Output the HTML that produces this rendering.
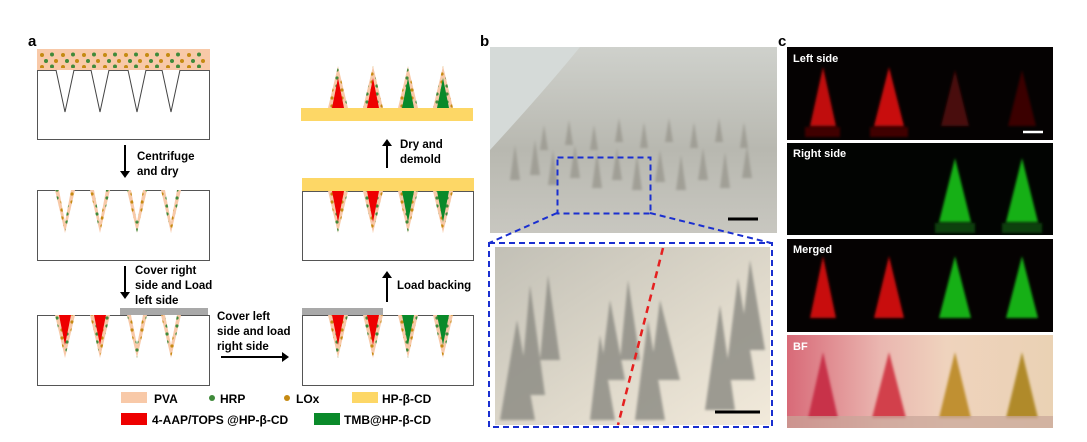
<!DOCTYPE html>
<html><head><meta charset="utf-8"><style>
html,body{margin:0;padding:0;background:#fff;}
svg{display:block;font-family:"Liberation Sans",Arial,sans-serif;}
</style></head><body>
<svg width="1087" height="442" viewBox="0 0 1087 442" xmlns="http://www.w3.org/2000/svg">
<defs>
<pattern id="dots" width="10" height="8" patternUnits="userSpaceOnUse">
<circle cx="2" cy="2" r="1.6" fill="#c58a12"/><circle cx="7" cy="6" r="1.6" fill="#3f8a3a"/>
</pattern>
<pattern id="dots2" x="39" y="52" width="21" height="12" patternUnits="userSpaceOnUse">
<circle cx="3" cy="3" r="2" fill="#c58a12"/><circle cx="13" cy="2.5" r="2" fill="#3f8a3a"/>
<circle cx="7" cy="9" r="2" fill="#3f8a3a"/><circle cx="17" cy="9" r="2" fill="#c58a12"/>
</pattern>
<linearGradient id="ph" x1="0" y1="0" x2="0" y2="1"><stop offset="0" stop-color="#cfd1cc"/><stop offset="0.55" stop-color="#b8b8b0"/><stop offset="1" stop-color="#c8c7c0"/></linearGradient>
<linearGradient id="ph2" x1="0" y1="0" x2="1" y2="1"><stop offset="0" stop-color="#c2c0b6"/><stop offset="0.6" stop-color="#e0dacc"/><stop offset="1" stop-color="#f2eadb"/></linearGradient>
<linearGradient id="bf" x1="0" y1="0" x2="1" y2="0"><stop offset="0" stop-color="#d86a78"/><stop offset="0.35" stop-color="#eab6b0"/><stop offset="0.6" stop-color="#efd3bd"/><stop offset="1" stop-color="#ead2b4"/></linearGradient>
<filter id="bl" x="-20%" y="-20%" width="140%" height="140%"><feGaussianBlur stdDeviation="1.2"/></filter>
</defs>

<!-- Panel a -->
<text x="28" y="46" font-size="15" font-weight="bold">a</text>
<rect x="37" y="49" width="173" height="21" fill="#f8c9a8"/>
<rect x="39" y="52" width="169" height="16" fill="url(#dots2)"/>
<rect x="37.5" y="70.5" width="172" height="69" fill="none" stroke="#555" stroke-width="1"/>
<g fill="#fff" stroke="#444" stroke-width="1">
<path d="M56 70 L65 112 L74 70"/><path d="M91 70 L100 112 L109 70"/><path d="M128 70 L137 112 L146 70"/><path d="M162 70 L171 112 L180 70"/>
</g>
<line x1="125" y1="145" x2="125" y2="173" stroke="#000" stroke-width="2"/><path d="M120 171 L125 178 L130 171Z"/>
<text x="137" y="160" font-size="11.5" font-weight="bold">Centrifuge</text>
<text x="137" y="175" font-size="11.5" font-weight="bold">and dry</text>
<rect x="37.5" y="190.5" width="172" height="70" fill="none" stroke="#555"/>
<g>
<path d="M55 190 L65 233 L75 190Z" fill="#f8c9a8"/><path d="M90 190 L100 233 L110 190Z" fill="#f8c9a8"/><path d="M127 190 L137 233 L147 190Z" fill="#f8c9a8"/><path d="M161 190 L171 233 L181 190Z" fill="#f8c9a8"/>
<path d="M55 190 L65 233 L75 190Z" fill="url(#dots)"/><path d="M90 190 L100 233 L110 190Z" fill="url(#dots)"/><path d="M127 190 L137 233 L147 190Z" fill="url(#dots)"/><path d="M161 190 L171 233 L181 190Z" fill="url(#dots)"/>
<path d="M59 190 L65 222 L71 190Z" fill="#fff"/><path d="M94 190 L100 222 L106 190Z" fill="#fff"/><path d="M131 190 L137 222 L143 190Z" fill="#fff"/><path d="M165 190 L171 222 L177 190Z" fill="#fff"/>
</g>
<line x1="125" y1="266" x2="125" y2="294" stroke="#000" stroke-width="2"/><path d="M120 292 L125 299 L130 292Z"/>
<text x="135" y="274" font-size="11.5" font-weight="bold">Cover right</text>
<text x="135" y="289" font-size="11.5" font-weight="bold">side and Load</text>
<text x="135" y="304" font-size="11.5" font-weight="bold">left side</text>
<rect x="120" y="308" width="88" height="7" fill="#a9a9a9"/>
<rect x="37.5" y="315.5" width="172" height="70" fill="none" stroke="#555"/>
<g>
<path d="M55 315 L65 358 L75 315Z" fill="#f8c9a8"/><path d="M90 315 L100 358 L110 315Z" fill="#f8c9a8"/><path d="M127 315 L137 358 L147 315Z" fill="#f8c9a8"/><path d="M161 315 L171 358 L181 315Z" fill="#f8c9a8"/>
<path d="M55 315 L65 358 L75 315Z" fill="url(#dots)"/><path d="M90 315 L100 358 L110 315Z" fill="url(#dots)"/><path d="M127 315 L137 358 L147 315Z" fill="url(#dots)"/><path d="M161 315 L171 358 L181 315Z" fill="url(#dots)"/>
<path d="M59 315 L65 345 L71 315Z" fill="#e00"/><path d="M94 315 L100 345 L106 315Z" fill="#e00"/><path d="M131 315 L137 345 L143 315Z" fill="#fff"/><path d="M165 315 L171 345 L177 315Z" fill="#fff"/>
</g>
<text x="217" y="320" font-size="11.5" font-weight="bold">Cover left</text>
<text x="217" y="335" font-size="11.5" font-weight="bold">side and load</text>
<text x="217" y="350" font-size="11.5" font-weight="bold">right side</text>
<line x1="221" y1="357" x2="284" y2="357" stroke="#000" stroke-width="2"/><path d="M282 352 L289 357 L282 362Z"/>

<rect x="301" y="108" width="172" height="13" fill="#fdd766"/>
<g>
<path d="M328 108 L338 66 L348 108Z" fill="#f8c9a8"/><path d="M363 108 L373 66 L383 108Z" fill="#f8c9a8"/><path d="M398 108 L408 66 L418 108Z" fill="#f8c9a8"/><path d="M433 108 L443 66 L453 108Z" fill="#f8c9a8"/>
<path d="M328 108 L338 66 L348 108Z" fill="url(#dots)"/><path d="M363 108 L373 66 L383 108Z" fill="url(#dots)"/><path d="M398 108 L408 66 L418 108Z" fill="url(#dots)"/><path d="M433 108 L443 66 L453 108Z" fill="url(#dots)"/>
<path d="M332 108 L338 78 L344 108Z" fill="#e00"/><path d="M367 108 L373 78 L379 108Z" fill="#e00"/><path d="M402 108 L408 78 L414 108Z" fill="#0a8a2a"/><path d="M437 108 L443 78 L449 108Z" fill="#0a8a2a"/>
</g>
<line x1="387" y1="168" x2="387" y2="144" stroke="#000" stroke-width="2"/><path d="M382 146 L387 139 L392 146Z"/>
<text x="400" y="148" font-size="11.5" font-weight="bold">Dry and</text>
<text x="400" y="163" font-size="11.5" font-weight="bold">demold</text>
<rect x="302" y="178" width="172" height="13" fill="#fdd766"/>
<rect x="302.5" y="191.5" width="171" height="69" fill="none" stroke="#555"/>
<g>
<path d="M328 191 L338 233 L348 191Z" fill="#f8c9a8"/><path d="M363 191 L373 233 L383 191Z" fill="#f8c9a8"/><path d="M398 191 L408 233 L418 191Z" fill="#f8c9a8"/><path d="M433 191 L443 233 L453 191Z" fill="#f8c9a8"/>
<path d="M328 191 L338 233 L348 191Z" fill="url(#dots)"/><path d="M363 191 L373 233 L383 191Z" fill="url(#dots)"/><path d="M398 191 L408 233 L418 191Z" fill="url(#dots)"/><path d="M433 191 L443 233 L453 191Z" fill="url(#dots)"/>
<path d="M332 191 L338 222 L344 191Z" fill="#e00"/><path d="M367 191 L373 222 L379 191Z" fill="#e00"/><path d="M402 191 L408 222 L414 191Z" fill="#0a8a2a"/><path d="M437 191 L443 222 L449 191Z" fill="#0a8a2a"/>
</g>
<line x1="387" y1="302" x2="387" y2="276" stroke="#000" stroke-width="2"/><path d="M382 278 L387 271 L392 278Z"/>
<text x="397" y="289" font-size="11.5" font-weight="bold">Load backing</text>
<rect x="302" y="308" width="81" height="7" fill="#a9a9a9"/>
<rect x="302.5" y="315.5" width="171" height="70" fill="none" stroke="#555"/>
<g>
<path d="M328 315 L338 358 L348 315Z" fill="#f8c9a8"/><path d="M363 315 L373 358 L383 315Z" fill="#f8c9a8"/><path d="M398 315 L408 358 L418 315Z" fill="#f8c9a8"/><path d="M433 315 L443 358 L453 315Z" fill="#f8c9a8"/>
<path d="M328 315 L338 358 L348 315Z" fill="url(#dots)"/><path d="M363 315 L373 358 L383 315Z" fill="url(#dots)"/><path d="M398 315 L408 358 L418 315Z" fill="url(#dots)"/><path d="M433 315 L443 358 L453 315Z" fill="url(#dots)"/>
<path d="M332 315 L338 345 L344 315Z" fill="#e00"/><path d="M367 315 L373 345 L379 315Z" fill="#e00"/><path d="M402 315 L408 345 L414 315Z" fill="#0a8a2a"/><path d="M437 315 L443 345 L449 315Z" fill="#0a8a2a"/>
</g>
<rect x="121" y="392" width="26" height="11" fill="#f8c9a8"/><text x="154" y="403" font-size="12" font-weight="bold">PVA</text>
<circle cx="212" cy="398" r="3" fill="#3f8a3a"/><text x="220" y="403" font-size="12" font-weight="bold">HRP</text>
<circle cx="287" cy="398" r="3" fill="#c58a12"/><text x="296" y="403" font-size="12" font-weight="bold">LOx</text>
<rect x="352" y="392" width="26" height="11" fill="#fdd766"/><text x="382" y="403" font-size="12" font-weight="bold">HP-β-CD</text>
<rect x="121" y="413" width="26" height="12" fill="#e00"/><text x="152" y="424" font-size="12" font-weight="bold">4-AAP/TOPS @HP-β-CD</text>
<rect x="314" y="413" width="26" height="12" fill="#0a8a2a"/><text x="344" y="424" font-size="12" font-weight="bold">TMB@HP-β-CD</text>

<!-- Panel b -->
<text x="480" y="46" font-size="15" font-weight="bold">b</text>
<rect x="490" y="47" width="287" height="186" fill="url(#ph)"/>
<path d="M490 47 L580 47 Q545 90 490 150Z" fill="#d5dad8"/>
<g fill="#9a988f" opacity="0.8" filter="url(#bl)">
<path d="M510 180 L515 145 L520 180Z"/><path d="M530 175 L535 140 L540 175Z"/><path d="M548 185 L553 150 L558 185Z"/><path d="M570 178 L575 145 L580 178Z"/><path d="M592 188 L597 152 L602 188Z"/><path d="M612 180 L617 148 L622 180Z"/><path d="M632 190 L637 155 L642 190Z"/><path d="M655 182 L660 150 L665 182Z"/><path d="M676 190 L681 155 L686 190Z"/><path d="M698 180 L703 148 L708 180Z"/><path d="M720 188 L725 152 L730 188Z"/><path d="M742 178 L747 146 L752 178Z"/>
<path d="M540 150 L544 125 L548 150Z"/><path d="M565 145 L569 120 L573 145Z"/><path d="M590 150 L594 125 L598 150Z"/><path d="M615 142 L619 118 L623 142Z"/><path d="M640 148 L644 122 L648 148Z"/><path d="M665 142 L669 118 L673 142Z"/><path d="M690 148 L694 122 L698 148Z"/><path d="M715 142 L719 118 L723 142Z"/><path d="M740 148 L744 122 L748 148Z"/>
</g>
<rect x="557.5" y="157.5" width="93" height="56" fill="none" stroke="#1a2fd0" stroke-width="2" stroke-dasharray="6,4"/>
<line x1="728" y1="219" x2="758" y2="219" stroke="#000" stroke-width="3"/>
<line x1="557" y1="213" x2="489" y2="243" stroke="#1a2fd0" stroke-width="2" stroke-dasharray="6,4"/>
<line x1="650" y1="213" x2="771" y2="243" stroke="#1a2fd0" stroke-width="2" stroke-dasharray="6,4"/>
<rect x="495" y="247" width="275" height="178" fill="url(#ph2)"/>
<g fill="#8f8e86" opacity="0.85" filter="url(#bl)">
<path d="M500 420 L517 320 L535 420Z"/><path d="M520 395 L530 285 L545 395Z"/><path d="M540 360 L548 275 L560 360Z"/><path d="M590 420 L600 335 L615 420Z"/><path d="M600 380 L610 300 L625 380Z"/><path d="M620 360 L628 280 L640 360Z"/><path d="M635 420 L648 320 L665 420Z"/><path d="M650 380 L660 300 L680 380Z"/><path d="M705 410 L720 305 L735 410Z"/><path d="M725 380 L738 278 L755 380Z"/><path d="M740 350 L750 260 L765 350Z"/>
</g>
<rect x="489" y="243" width="283" height="184" fill="none" stroke="#1a2fd0" stroke-width="2" stroke-dasharray="6,4"/>
<line x1="663" y1="248" x2="618" y2="425" stroke="#e52020" stroke-width="2.5" stroke-dasharray="7,5"/>
<line x1="715" y1="412" x2="760" y2="412" stroke="#000" stroke-width="3"/>

<!-- Panel c -->
<text x="778" y="46" font-size="15" font-weight="bold">c</text>
<rect x="787" y="47" width="266" height="93" fill="#050202"/>
<g filter="url(#bl)">
<path d="M810 126 L823 67 L836 126Z" fill="#c01010"/><path d="M874 126 L889 67 L904 126Z" fill="#c81010"/><path d="M941 126 L955 70 L969 126Z" fill="#4a0808"/><path d="M1008 126 L1022 70 L1036 126Z" fill="#3a0606"/>
<rect x="805" y="127" width="35" height="10" fill="#400505"/><rect x="870" y="127" width="38" height="10" fill="#400505"/>
</g>
<text x="793" y="62" font-size="11" font-weight="bold" fill="#fff">Left side</text>
<line x1="1023" y1="132" x2="1043" y2="132" stroke="#fff" stroke-width="2.5"/>

<rect x="787" y="143" width="266" height="92" fill="#020402"/>
<g filter="url(#bl)">
<path d="M939 222 L955 158 L971 222Z" fill="#18b018"/><path d="M1006 222 L1022 158 L1038 222Z" fill="#18b018"/>
<rect x="935" y="223" width="40" height="10" fill="#0a400a"/><rect x="1002" y="223" width="40" height="10" fill="#0a400a"/>
</g>
<text x="793" y="157" font-size="11" font-weight="bold" fill="#fff">Right side</text>

<rect x="787" y="239" width="266" height="93" fill="#050202"/>
<g filter="url(#bl)">
<path d="M810 318 L823 256 L836 318Z" fill="#c81010"/><path d="M874 318 L889 256 L904 318Z" fill="#c81010"/><path d="M939 318 L955 256 L971 318Z" fill="#18b018"/><path d="M1006 318 L1022 256 L1038 318Z" fill="#18b018"/>
</g>
<text x="793" y="253" font-size="11" font-weight="bold" fill="#fff">Merged</text>

<rect x="787" y="335" width="266" height="93" fill="url(#bf)"/>
<g filter="url(#bl)">
<path d="M808 418 L823 352 L838 418Z" fill="#c8304a"/><path d="M872 418 L889 352 L906 418Z" fill="#d2404c"/><path d="M939 418 L955 352 L971 418Z" fill="#c09030"/><path d="M1006 418 L1022 352 L1038 418Z" fill="#b08a2a"/>
</g>
<rect x="787" y="416" width="266" height="12" fill="#c7a598" opacity="0.7"/>
<text x="793" y="350" font-size="11" font-weight="bold" fill="#fff">BF</text>
</svg>
</body></html>
